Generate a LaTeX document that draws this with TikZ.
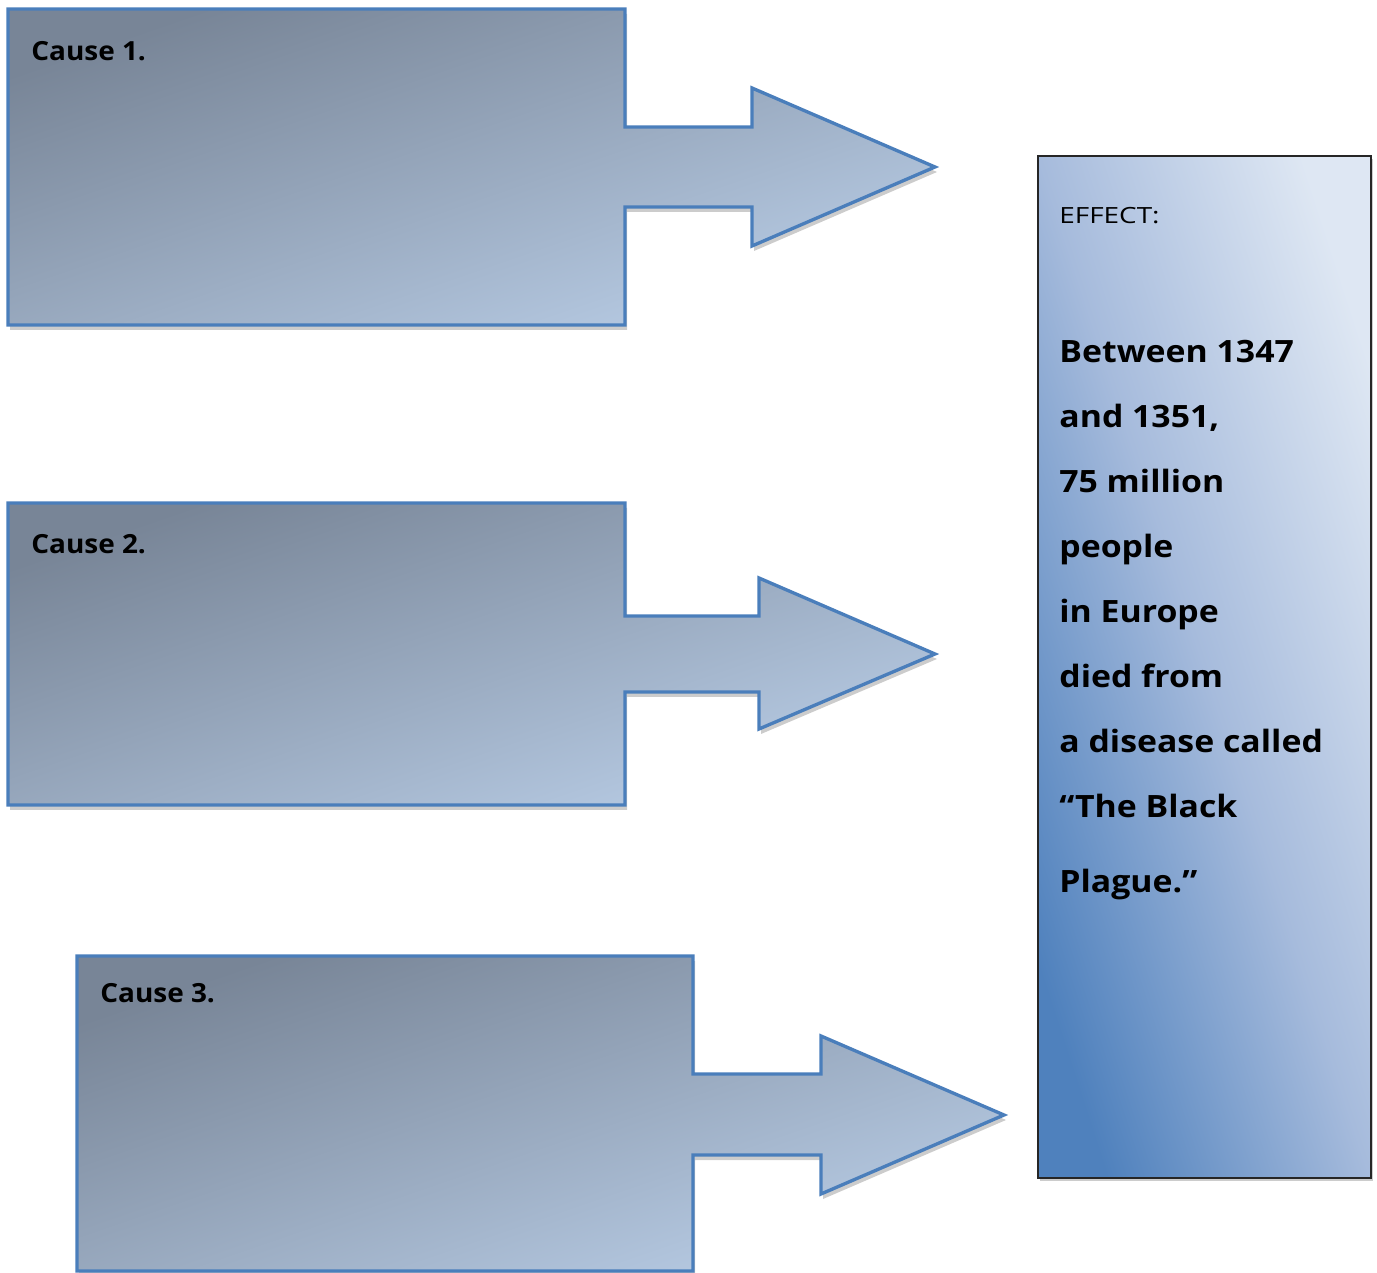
\documentclass[tikz,border=0pt]{standalone}
\usepackage{fontspec}
\setmainfont{Open Sans}
\definecolor{causeDark}{RGB}{120,133,151}
\definecolor{causeLight}{RGB}{184,204,229}
\definecolor{causeLine}{RGB}{74,126,187}
\definecolor{effectDark}{RGB}{79,129,189}
\definecolor{effectMid}{RGB}{166,187,220}
\definecolor{effectLight}{RGB}{222,231,243}
\begin{document}
\begin{tikzpicture}[
    x=0.02cm, y=-0.02cm,
    cause shape/.style={draw=causeLine, line width=1.9pt, top color=causeDark, bottom color=causeLight, shading angle=19},
    shape shadow/.style={fill=black!20, draw=none},
    effect box/.style={draw=black!85, line width=1.3pt, top color=effectLight, bottom color=effectDark, middle color=effectMid, shading angle=-72},
    cause label/.style={anchor=base west, inner sep=0pt, font=\fontsize{15}{18}\selectfont\bfseries\addfontfeature{FakeStretch=1.06}},
    effect head/.style={anchor=base west, inner sep=0pt, font=\fontsize{12.7}{15}\selectfont\addfontfeature{FakeStretch=1.25}},
    effect line/.style={anchor=base west, inner sep=0pt, font=\fontsize{17.5}{21}\selectfont\bfseries\addfontfeature{FakeStretch=1.1}},
    ]
\useasboundingbox (0,0) rectangle (1377,1273);
% cause 1
\fill[shape shadow, shift={(2,5)}] (8,9) -- (625,9) -- (625,127) -- (752,127) -- (752,88) -- (935,167) -- (752,246) -- (752,207) -- (625,207) -- (625,325) -- (8,325) -- cycle;
\draw[cause shape] (8,9) -- (625,9) -- (625,127) -- (752,127) -- (752,88) -- (935,167) -- (752,246) -- (752,207) -- (625,207) -- (625,325) -- (8,325) -- cycle;
\node[cause label] (cause1) at (31,61) {Cause 1.};
% cause 2
\fill[shape shadow, shift={(2,5)}] (8,503) -- (625,503) -- (625,616) -- (759,616) -- (759,578) -- (935,654) -- (759,729) -- (759,692) -- (625,692) -- (625,805) -- (8,805) -- cycle;
\draw[cause shape] (8,503) -- (625,503) -- (625,616) -- (759,616) -- (759,578) -- (935,654) -- (759,729) -- (759,692) -- (625,692) -- (625,805) -- (8,805) -- cycle;
\node[cause label] (cause2) at (31,554) {Cause 2.};
% cause 3
\fill[shape shadow, shift={(2,5)}] (77,956) -- (693,956) -- (693,1074) -- (821,1074) -- (821,1036) -- (1004,1115) -- (821,1194) -- (821,1155) -- (693,1155) -- (693,1271) -- (77,1271) -- cycle;
\draw[cause shape] (77,956) -- (693,956) -- (693,1074) -- (821,1074) -- (821,1036) -- (1004,1115) -- (821,1194) -- (821,1155) -- (693,1155) -- (693,1271) -- (77,1271) -- cycle;
\node[cause label] (cause3) at (100,1002) {Cause 3.};
% effect
\fill[shape shadow, shift={(2,3)}] (1038,156) rectangle (1371,1178);
\draw[effect box] (1038,156) rectangle (1371,1178);
\node[effect head] (effect) at (1059,224) {EFFECT:};
\node[effect line] (line1) at (1059,363) {Between 1347};
\node[effect line] (line2) at (1059,428) {and 1351,};
\node[effect line] (line3) at (1059,493) {75 million};
\node[effect line] (line4) at (1059,558) {people};
\node[effect line] (line5) at (1059,623) {in Europe};
\node[effect line] (line6) at (1059,688) {died from};
\node[effect line] (line7) at (1059,753) {a disease called};
\node[effect line] (line8) at (1059,818) {“The Black};
\node[effect line] (line9) at (1059,892) {Plague.”};
\end{tikzpicture}
\end{document}
